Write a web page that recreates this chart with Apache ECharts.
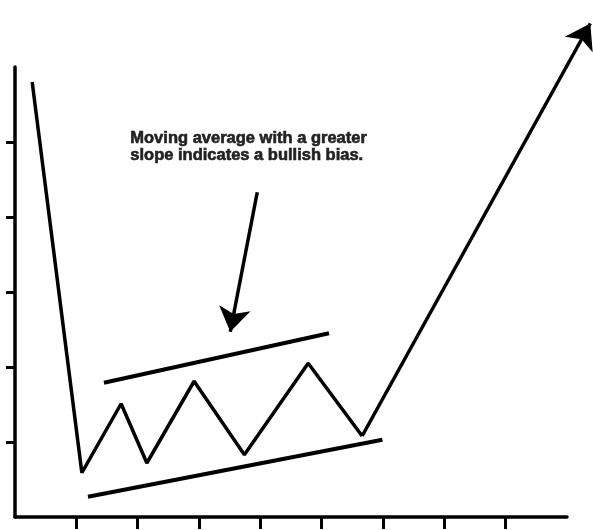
<!DOCTYPE html>
<html>
<head>
<meta charset="utf-8">
<script src="https://cdn.jsdelivr.net/npm/echarts@6/dist/echarts.min.js"></script>
<style>
  html, body { margin: 0; padding: 0; background: #fff; }
  #chart { width: 593px; height: 530px; }
</style>
</head>
<body>
<div id="chart"></div>
<script>
// price path (x, y)
var pricePath = [[0.28, 5.8], [1.09, 0.59], [1.73, 1.51], [2.15, 0.72], [2.92, 1.81], [3.74, 0.83], [4.78, 2.05], [5.66, 1.08]];
// breakout leg, ends with arrow head
var breakout = [[5.66, 1.08], [9.38, 6.58]];
// trend lines
var upperTrend = [[1.45, 1.79], [5.12, 2.45]];
var lowerTrend = [[1.19, 0.27], [5.99, 1.03]];
// annotation pointer
var pointer = [[3.95, 4.33], [3.51, 2.47]];
var xTicks = [1, 2, 3, 4, 5, 6, 7, 8];
var yTicks = [1, 2, 3, 4, 5];
var note = "Moving average with a greater\nslope indicates a bullish bias.";

var myChart = echarts.init(document.getElementById("chart"));
var axisLine = { lineStyle: { color: "#000", width: 3.5 } };

var option = {
  animation: false,
  grid: { left: 15, right: 26, top: 67, bottom: 13 },
  xAxis: {
    type: "value", min: 0, max: 9,
    axisLine: axisLine,
    axisTick: { show: true, customValues: xTicks, length: 12, lineStyle: { color: "#000", width: 3 } },
    axisLabel: { show: false },
    splitLine: { show: false }
  },
  yAxis: {
    type: "value", min: 0, max: 6,
    axisLine: axisLine,
    axisTick: { show: true, customValues: yTicks, length: 9, lineStyle: { color: "#000", width: 3 } },
    axisLabel: { show: false },
    splitLine: { show: false }
  },
  graphic: [{
    type: "text", left: 130, top: 130,
    style: {
      text: note, fill: "#222", stroke: "#222", lineWidth: 0.6,
      font: "bold 16.5px 'Liberation Sans', Arial", lineHeight: 17
    }
  }],
  series: [
    {
      type: "line", data: pricePath, symbol: "none", clip: false,
      lineStyle: { color: "#000", width: 3.5 }
    },
    {
      type: "line", data: upperTrend, symbol: "none",
      lineStyle: { color: "#000", width: 4 }
    },
    {
      type: "line", data: lowerTrend, symbol: "none",
      lineStyle: { color: "#000", width: 4 }
    },
    {
      type: "lines", coordinateSystem: "cartesian2d", clip: false,
      symbol: ["none", "arrow"], symbolSize: [14, 24],
      lineStyle: { color: "#000", width: 3.5, opacity: 1 },
      data: [{ coords: breakout }, { coords: pointer }]
    }
  ]
};
myChart.setOption(option);
</script>
</body>
</html>
